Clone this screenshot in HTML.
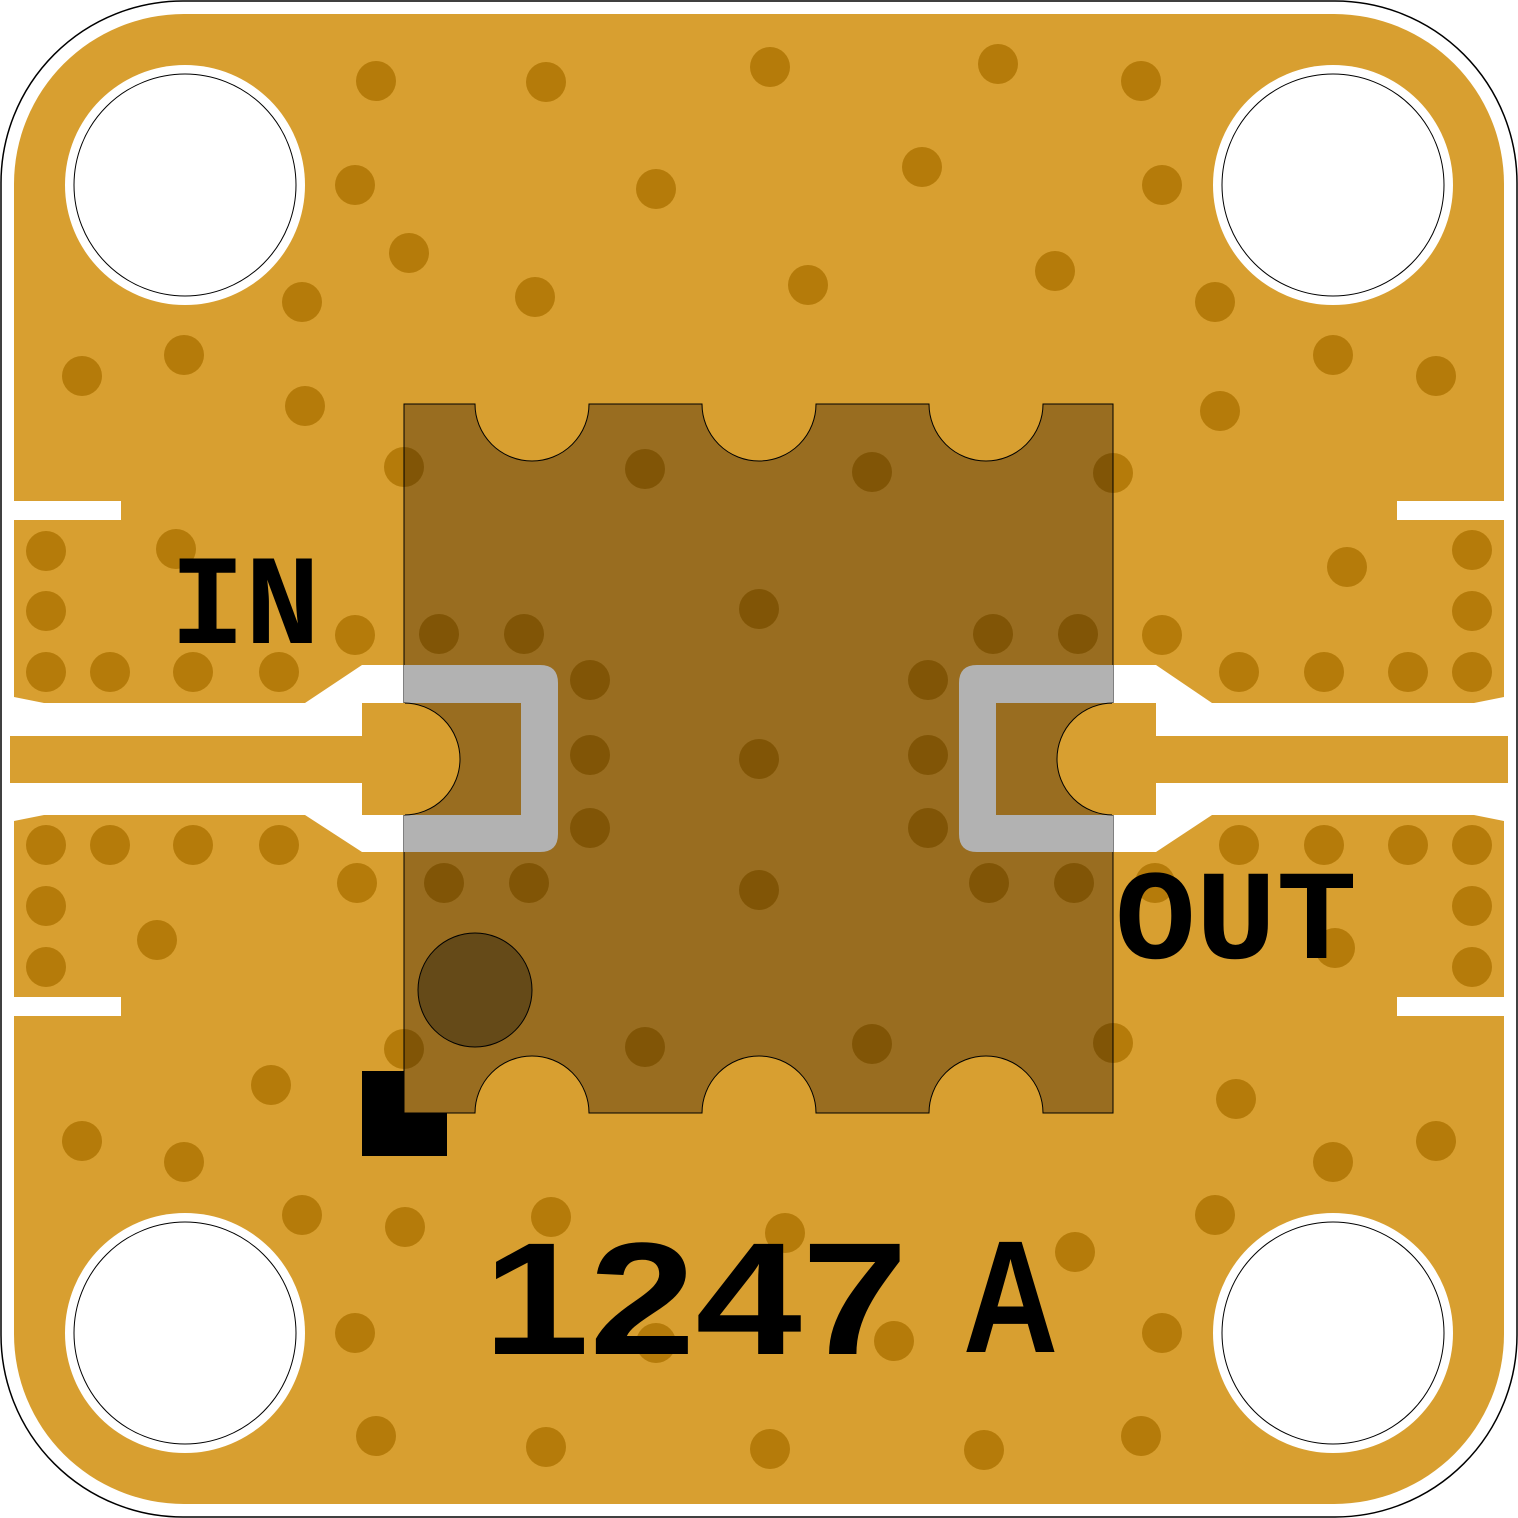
<!DOCTYPE html>
<html><head><style>html,body{margin:0;padding:0;background:#fff}svg{display:block}</style></head><body>
<svg width="1518" height="1518" viewBox="0 0 1518 1518" xmlns="http://www.w3.org/2000/svg">
<rect x="1" y="1" width="1516" height="1516" rx="182" fill="#fff" stroke="#000" stroke-width="1.5"/>
<rect x="14" y="14" width="1490" height="1490" rx="170" fill="#D89F30"/>
<g fill="#fff">
<rect x="14" y="501" width="107" height="19"/><rect x="14" y="997" width="107" height="19"/>
<rect x="1397" y="501" width="107" height="19"/><rect x="1397" y="997" width="107" height="19"/>
<polygon points="14,697 44,703 305,703 362,665 404,665 404,852 362,852 305,815 44,815 14,821"/>
<polygon points="1504,697 1474,703 1212,703 1156,665 1113,665 1113,852 1156,852 1212,815 1474,815 1504,821"/>
</g>
<g fill="#D89F30">
<rect x="10" y="736" width="360" height="47"/><rect x="362" y="703" width="42" height="112"/>
<rect x="1150" y="736" width="358" height="47"/><rect x="1113" y="703" width="43" height="112"/>
</g>
<g fill="#B57B0A">
<circle cx="376" cy="81" r="20"/><circle cx="546" cy="82" r="20"/><circle cx="770" cy="67" r="20"/><circle cx="998" cy="64" r="20"/><circle cx="1141" cy="81" r="20"/>
<circle cx="355" cy="185" r="20"/><circle cx="656" cy="189" r="20"/><circle cx="922" cy="167" r="20"/><circle cx="1162" cy="185" r="20"/>
<circle cx="409" cy="253" r="20"/><circle cx="302" cy="302" r="20"/><circle cx="535" cy="297" r="20"/><circle cx="808" cy="285" r="20"/><circle cx="1055" cy="271" r="20"/><circle cx="1215" cy="302" r="20"/>
<circle cx="82" cy="376" r="20"/><circle cx="184" cy="355" r="20"/><circle cx="305" cy="406" r="20"/><circle cx="1333" cy="355" r="20"/><circle cx="1436" cy="376" r="20"/><circle cx="1220" cy="411" r="20"/>
<circle cx="404" cy="467" r="20"/><circle cx="645" cy="469" r="20"/><circle cx="872" cy="472" r="20"/><circle cx="1113" cy="473" r="20"/>
<circle cx="46" cy="551" r="20"/><circle cx="176" cy="549" r="20"/><circle cx="46" cy="611" r="20"/><circle cx="355" cy="635" r="20"/>
<circle cx="46" cy="672" r="20"/><circle cx="110" cy="672" r="20"/><circle cx="193" cy="672" r="20"/><circle cx="279" cy="672" r="20"/>
<circle cx="439" cy="634" r="20"/><circle cx="524" cy="634" r="20"/><circle cx="759" cy="609" r="20"/><circle cx="993" cy="634" r="20"/><circle cx="1078" cy="634" r="20"/>
<circle cx="590" cy="680" r="20"/><circle cx="928" cy="680" r="20"/><circle cx="590" cy="755" r="20"/><circle cx="759" cy="759" r="20"/><circle cx="928" cy="755" r="20"/>
<circle cx="590" cy="828" r="20"/><circle cx="928" cy="828" r="20"/><circle cx="444" cy="883" r="20"/><circle cx="529" cy="883" r="20"/><circle cx="759" cy="890" r="20"/><circle cx="989" cy="883" r="20"/><circle cx="1074" cy="883" r="20"/>
<circle cx="1472" cy="550" r="20"/><circle cx="1347" cy="567" r="20"/><circle cx="1472" cy="611" r="20"/><circle cx="1162" cy="635" r="20"/>
<circle cx="1239" cy="672" r="20"/><circle cx="1324" cy="672" r="20"/><circle cx="1408" cy="672" r="20"/><circle cx="1472" cy="672" r="20"/>
<circle cx="46" cy="845" r="20"/><circle cx="110" cy="845" r="20"/><circle cx="193" cy="845" r="20"/><circle cx="279" cy="845" r="20"/><circle cx="357" cy="883" r="20"/>
<circle cx="46" cy="906" r="20"/><circle cx="157" cy="940" r="20"/><circle cx="46" cy="967" r="20"/>
<circle cx="1239" cy="845" r="20"/><circle cx="1324" cy="845" r="20"/><circle cx="1408" cy="845" r="20"/><circle cx="1472" cy="845" r="20"/><circle cx="1155" cy="883" r="20"/>
<circle cx="1472" cy="906" r="20"/><circle cx="1335" cy="948" r="20"/><circle cx="1472" cy="967" r="20"/>
<circle cx="404" cy="1049" r="20"/><circle cx="645" cy="1047" r="20"/><circle cx="872" cy="1044" r="20"/><circle cx="1113" cy="1043" r="20"/>
<circle cx="271" cy="1085" r="20"/><circle cx="1236" cy="1099" r="20"/><circle cx="82" cy="1141" r="20"/><circle cx="184" cy="1162" r="20"/><circle cx="1436" cy="1141" r="20"/><circle cx="1333" cy="1162" r="20"/>
<circle cx="302" cy="1215" r="20"/><circle cx="405" cy="1227" r="20"/><circle cx="551" cy="1217" r="20"/><circle cx="785" cy="1233" r="20"/><circle cx="1075" cy="1252" r="20"/><circle cx="1215" cy="1215" r="20"/>
<circle cx="355" cy="1333" r="20"/><circle cx="656" cy="1343" r="20"/><circle cx="894" cy="1341" r="20"/><circle cx="1162" cy="1333" r="20"/>
<circle cx="376" cy="1436" r="20"/><circle cx="546" cy="1447" r="20"/><circle cx="770" cy="1449" r="20"/><circle cx="984" cy="1450" r="20"/><circle cx="1141" cy="1436" r="20"/>
</g>
<polygon points="362,1071 404,1071 404,1113 447,1113 447,1156 362,1156" fill="#000"/>
<path d="M404,404 H475 A57,57 0 0 0 589,404 H702 A57,57 0 0 0 816,404 H929 A57,57 0 0 0 1043,404 H1113 V1113 H1043 A57,57 0 0 0 929,1113 H816 A57,57 0 0 0 702,1113 H589 A57,57 0 0 0 475,1113 H404 Z" fill="rgba(25,10,0,0.33)" stroke="#000" stroke-width="1"/>
<path d="M404,665 H540 Q558,665 558,683 V834 Q558,852 540,852 H404 V815 H521 V703 H404 Z" fill="#B2B2B2"/>
<path d="M1113,665 H977 Q959,665 959,683 V834 Q959,852 977,852 H1113 V815 H996 V703 H1113 Z" fill="#B2B2B2"/>
<path d="M404,703 A56,56 0 0 1 404,815 Z" fill="#D89F30" stroke="#000" stroke-width="1"/>
<path d="M1113,703 A56,56 0 0 0 1113,815 Z" fill="#D89F30" stroke="#000" stroke-width="1"/>
<line x1="404" y1="703" x2="404" y2="815" stroke="#D89F30" stroke-width="2"/>
<line x1="1113" y1="703" x2="1113" y2="815" stroke="#D89F30" stroke-width="2"/>
<circle cx="475" cy="990" r="57" fill="#654A18" stroke="#000" stroke-width="1"/>
<g fill="#fff" stroke="#000" stroke-width="1">
<circle cx="185" cy="185" r="120" stroke="none"/><circle cx="185" cy="185" r="111"/>
<circle cx="1333" cy="185" r="120" stroke="none"/><circle cx="1333" cy="185" r="111"/>
<circle cx="185" cy="1333" r="120" stroke="none"/><circle cx="185" cy="1333" r="111"/>
<circle cx="1333" cy="1333" r="120" stroke="none"/><circle cx="1333" cy="1333" r="111"/>
</g>
<g font-family="Liberation Mono, monospace" font-weight="bold" fill="#000">
<text x="170" y="643" font-size="128" textLength="150" lengthAdjust="spacingAndGlyphs">IN</text>
<text x="1115" y="958" font-size="128" textLength="242" lengthAdjust="spacingAndGlyphs">OUT</text>
</g>
<g font-family="Liberation Sans, sans-serif" font-weight="bold" fill="#000">
<text x="483" y="1354" font-size="160" textLength="425" lengthAdjust="spacingAndGlyphs">1247</text>
<text x="963" y="1352" font-size="160" textLength="95" lengthAdjust="spacingAndGlyphs">A</text>
</g>
</svg>
</body></html>
